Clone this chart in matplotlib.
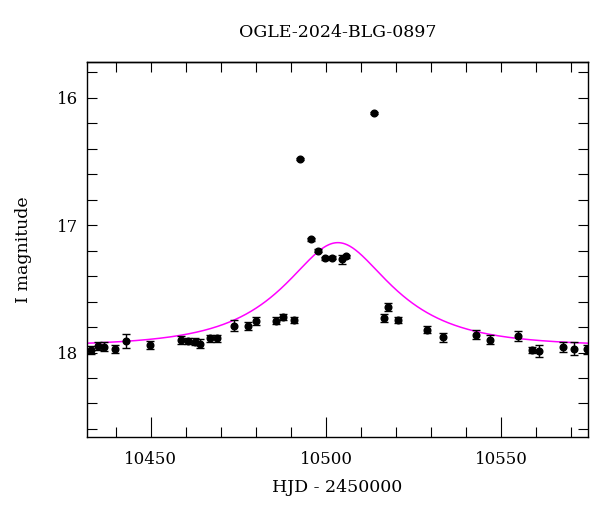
import numpy as np
import matplotlib
matplotlib.use("Agg")
import matplotlib.pyplot as plt
from matplotlib.ticker import MultipleLocator

# ---- data ----
hjd = [10432.8, 10434.8, 10436.7, 10439.8, 10442.9, 10449.7, 10458.7, 10460.7,
       10462.7, 10464.0, 10466.9, 10468.8, 10473.9, 10477.8, 10479.9, 10485.7,
       10487.7, 10490.8, 10492.6, 10495.8, 10497.8, 10499.8, 10501.7, 10504.6,
       10505.7, 10513.6, 10516.6, 10517.8, 10520.6, 10528.8, 10533.5, 10542.7,
       10546.7, 10554.8, 10558.7, 10560.7, 10567.6, 10570.7, 10574.5]
mag = [17.98, 17.95, 17.955, 17.97, 17.91, 17.94, 17.90, 17.91,
       17.915, 17.93, 17.89, 17.89, 17.79, 17.79, 17.755, 17.75,
       17.72, 17.745, 16.48, 17.11, 17.20, 17.26, 17.255, 17.27,
       17.245, 16.12, 17.73, 17.645, 17.745, 17.82, 17.88, 17.86,
       17.90, 17.87, 17.98, 17.99, 17.955, 17.97, 17.975]
err = [0.03, 0.034, 0.035, 0.03, 0.055, 0.03, 0.033, 0.022,
       0.025, 0.033, 0.03, 0.03, 0.045, 0.03, 0.03, 0.028,
       0.025, 0.025, 0.01, 0.012, 0.012, 0.012, 0.012, 0.033,
       0.012, 0.01, 0.033, 0.03, 0.025, 0.03, 0.035, 0.035,
       0.035, 0.038, 0.026, 0.046, 0.04, 0.05, 0.035]

# Paczynski model parameters
t0 = 10503.4
u0 = 0.52
tE = 26.0
I0 = 17.95
fs = 1.0

title = "OGLE-2024-BLG-0897"
xlabel = "HJD - 2450000"
ylabel = "I magnitude"

plt.rcParams['font.family'] = ['DejaVu Serif']
fig = plt.figure(figsize=(6.0, 5.12), dpi=100)
ax = fig.add_axes([0.145, 0.1465, 0.835, 0.7325])

tt = np.linspace(10425, 10580, 800)
u = np.sqrt(u0**2 + ((tt - t0) / tE)**2)
A = (u**2 + 2) / (u * np.sqrt(u**2 + 4))
model = I0 - 2.5 * np.log10(fs * A + 1 - fs)
ax.plot(tt, model, color='#ff00ff', lw=1.1, zorder=2)

ax.errorbar(hjd, mag, yerr=err, fmt='o', color='black', ms=4.8,
            ecolor='black', elinewidth=1.0, capsize=3, capthick=1.0, zorder=3)

ax.set_xlim(10431.8, 10574.8)
ax.set_ylim(18.663, 15.72)

ax.xaxis.set_major_locator(MultipleLocator(50))
ax.xaxis.set_minor_locator(MultipleLocator(10))
ax.yaxis.set_major_locator(MultipleLocator(1))
ax.yaxis.set_minor_locator(MultipleLocator(0.2))

# bottom axis: long major ticks
ax.tick_params(axis='x', which='both', direction='in', top=False,
               labelsize=12, width=0.8, pad=10)
ax.tick_params(axis='x', which='major', length=14.4)
ax.tick_params(axis='x', which='minor', length=7.2)
# y axes: all ticks same length
ax.tick_params(axis='y', which='both', direction='in', right=True,
               labelsize=12, width=0.8, pad=6.5, length=7.2)

# top axis: all ticks same short length, no labels
top = ax.secondary_xaxis('top')
top.xaxis.set_major_locator(MultipleLocator(50))
top.xaxis.set_minor_locator(MultipleLocator(10))
top.tick_params(which='both', direction='in', length=7.2, width=0.8,
                labeltop=False)

for s in ax.spines.values():
    s.set_linewidth(1.0)
top.spines['top'].set_linewidth(1.0)

ax.set_title(title, fontsize=12.5, pad=18)
ax.set_xlabel(xlabel, fontsize=12.5, labelpad=8)
ax.set_ylabel(ylabel, fontsize=12.5, labelpad=17.5)

fig.savefig("out.png", dpi=100)
